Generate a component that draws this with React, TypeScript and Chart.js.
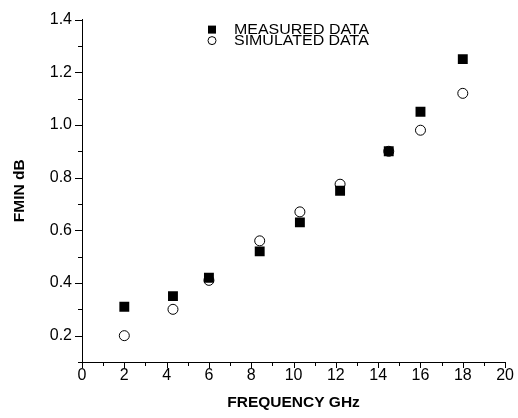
import React, { useEffect, useRef } from "react";
import { Chart, registerables } from "chart.js";

Chart.register(...registerables);

const FREQ_MEASURED = [2, 4.3, 6, 8.4, 10.3, 12.2, 14.5, 16, 18];
const FMIN_MEASURED = [0.31, 0.35, 0.42, 0.52, 0.63, 0.75, 0.9, 1.05, 1.25];
const FREQ_SIMULATED = [2, 4.3, 6, 8.4, 10.3, 12.2, 14.5, 16, 18];
const FMIN_SIMULATED = [0.2, 0.3, 0.41, 0.56, 0.67, 0.775, 0.9, 0.98, 1.12];

const LEGEND_LABELS = ["MEASURED DATA", "SIMULATED DATA"];
const X_TITLE = "FREQUENCY GHz";
const Y_TITLE = "FMIN dB";

const FONT = "'Liberation Sans', Arial, sans-serif";

const tickPlugin = {
  id: "customTicks",
  afterDraw(chart: any) {
    const ctx = chart.ctx;
    const xs = chart.scales.x;
    const ys = chart.scales.y;
    const area = chart.chartArea;
    ctx.save();
    ctx.strokeStyle = "#000";
    ctx.lineWidth = 1;
    ctx.beginPath();
    for (let i = 1; i <= 14; i++) {
      const v = i / 10;
      const py = Math.round(ys.getPixelForValue(v)) + 0.5;
      const len = i % 2 === 0 ? 7 : 4;
      ctx.moveTo(area.left - len, py);
      ctx.lineTo(area.left, py);
    }
    for (let i = 0; i <= 20; i++) {
      const px = Math.round(xs.getPixelForValue(i)) + 0.5;
      const len = i % 2 === 0 ? 6 : 4;
      ctx.moveTo(px, area.bottom);
      ctx.lineTo(px, area.bottom + len);
    }
    ctx.stroke();
    ctx.restore();
  },
};

const legendPlugin = {
  id: "customLegend",
  afterDraw(chart: any) {
    const ctx = chart.ctx;
    const area = chart.chartArea;
    const sx = area.left + 130;
    const rows = [area.top + 10, area.top + 21];
    ctx.save();
    ctx.fillStyle = "#000";
    ctx.fillRect(sx - 4, rows[0] - 4, 8, 8);
    ctx.beginPath();
    ctx.arc(sx, rows[1], 4, 0, Math.PI * 2);
    ctx.fillStyle = "#fff";
    ctx.fill();
    ctx.strokeStyle = "#000";
    ctx.lineWidth = 1;
    ctx.stroke();
    ctx.fillStyle = "#000";
    ctx.textBaseline = "middle";
    ctx.textAlign = "left";
    ctx.font = `14px ${FONT}`;
    LEGEND_LABELS.forEach((t, i) => {
      ctx.save();
      ctx.translate(sx + 22, rows[i] + 0.5);
      ctx.scale(1.14, 1);
      ctx.fillText(t, 0, 0);
      ctx.restore();
    });
    ctx.restore();
  },
};

export default function App() {
  const ref = useRef<HTMLCanvasElement>(null);

  useEffect(() => {
    document.body.style.margin = "0";
    const canvas = ref.current;
    if (!canvas) return;
    const chart = new Chart(canvas, {
      type: "scatter",
      data: {
        datasets: [
          {
            label: LEGEND_LABELS[0],
            data: FREQ_MEASURED.map((x, i) => ({ x, y: FMIN_MEASURED[i] })),
            pointStyle: "rect",
            pointRadius: 7,
            pointHoverRadius: 7,
            backgroundColor: "#000",
            borderColor: "#000",
            borderWidth: 0,
          },
          {
            label: LEGEND_LABELS[1],
            data: FREQ_SIMULATED.map((x, i) => ({ x, y: FMIN_SIMULATED[i] })),
            pointStyle: "circle",
            pointRadius: 5,
            pointHoverRadius: 5,
            backgroundColor: "#fff",
            borderColor: "#000",
            borderWidth: 1,
          },
        ],
      },
      options: {
        responsive: false,
        animation: false,
        events: [],
        layout: { padding: { top: 19, right: 10, left: 0, bottom: 0 } },
        plugins: {
          legend: { display: false },
          tooltip: { enabled: false },
        },
        scales: {
          x: {
            type: "linear",
            min: 0,
            max: 20,
            grid: { display: false, drawTicks: false },
            border: { display: true, color: "#000", width: 1 },
            ticks: {
              stepSize: 1,
              autoSkip: false,
              maxRotation: 0,
              padding: 4,
              color: "#000",
              font: { family: FONT, size: 16 },
              callback: (v: any) => (Math.round(v) % 2 === 0 ? String(Math.round(v)) : ""),
            },
            title: {
              display: true,
              text: X_TITLE,
              color: "#000",
              font: { family: FONT, size: 15.5, weight: "bold" },
              padding: { top: 0, bottom: 6 },
            },
            afterFit: (s: any) => {
              s.height = 56;
            },
          },
          y: {
            type: "linear",
            min: 0.1,
            max: 1.4,
            grid: { display: false, drawTicks: false },
            border: { display: true, color: "#000", width: 1 },
            ticks: {
              stepSize: 0.1,
              autoSkip: false,
              padding: 10,
              color: "#000",
              font: { family: FONT, size: 16 },
              callback: (v: any) => {
                const n = Math.round(v * 10);
                return n % 2 === 0 ? (n / 10).toFixed(1) : "";
              },
            },
            title: {
              display: true,
              text: Y_TITLE,
              color: "#000",
              font: { family: FONT, size: 15.5, weight: "bold" },
              padding: { top: 10, bottom: 0 },
            },
            afterFit: (s: any) => {
              s.width = 82;
            },
          },
        },
      },
      plugins: [tickPlugin, legendPlugin],
    });
    return () => chart.destroy();
  }, []);

  return (
    <div style={{ width: 518, height: 418, background: "#fff" }}>
      <canvas ref={ref} width={518} height={418} />
    </div>
  );
}
